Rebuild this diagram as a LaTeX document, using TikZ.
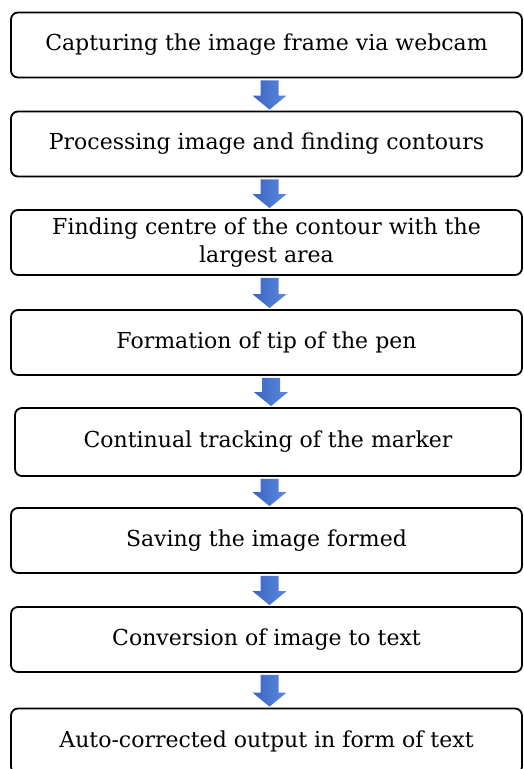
\documentclass[tikz,border=0pt]{standalone}
\usepackage{fontspec}
\setmainfont{DejaVu Serif}
\usetikzlibrary{calc}

\definecolor{arrowdark}{HTML}{3A64C4}
\definecolor{arrowlight}{HTML}{5C8ADA}

\tikzset{
    stepbox/.style={draw, line width=1.8pt, rounded corners=7pt, minimum width=511pt,
        minimum height=65pt, align=center, inner sep=0pt, font=\fontsize{22}{28}\selectfont},
}

% block arrow from the bottom of one box to the top of the next
\newcommand{\flowarrow}[2]{%
    \shade[left color=arrowdark, right color=arrowlight]
        ($(#1.south -| #2.north)+(-6,2)$) -- ($(#1.south -| #2.north)+(12,2)$) -- ($(#2.north)+(12,-15)$)
        -- ($(#2.north)+(20,-15)$) -- ($(#2.north)+(3,-1)$) -- ($(#2.north)+(-14,-15)$)
        -- ($(#2.north)+(-6,-15)$) -- cycle;
}

\begin{document}
\begin{tikzpicture}[x=1pt, y=-1pt]
    \useasboundingbox (0,0) rectangle (523,769);
    \clip (0,0) rectangle (523,769);

    \node[stepbox] (capture) at (266.5,45) {Capturing the image frame via webcam};
    \node[stepbox] (process) at (266.5,144) {Processing image and finding contours};
    \node[stepbox] (centre) at (266.5,242.5) {Finding centre of the contour with the\\largest area};
    \node[stepbox] (tip) at (266.5,342.5) {Formation of tip of the pen};
    \node[stepbox, minimum width=506pt, minimum height=68pt] (track) at (268,442) {Continual tracking of the marker};
    \node[stepbox] (save) at (266.5,540.5) {Saving the image formed};
    \node[stepbox] (convert) at (266.5,639.5) {Conversion of image to text};
    \node[stepbox] (output) at (266.5,741) {Auto-corrected output in form of text};

    \flowarrow{capture}{process}
    \flowarrow{process}{centre}
    \flowarrow{centre}{tip}
    \flowarrow{tip}{track}
    \flowarrow{track}{save}
    \flowarrow{save}{convert}
    \flowarrow{convert}{output}
\end{tikzpicture}
\end{document}
